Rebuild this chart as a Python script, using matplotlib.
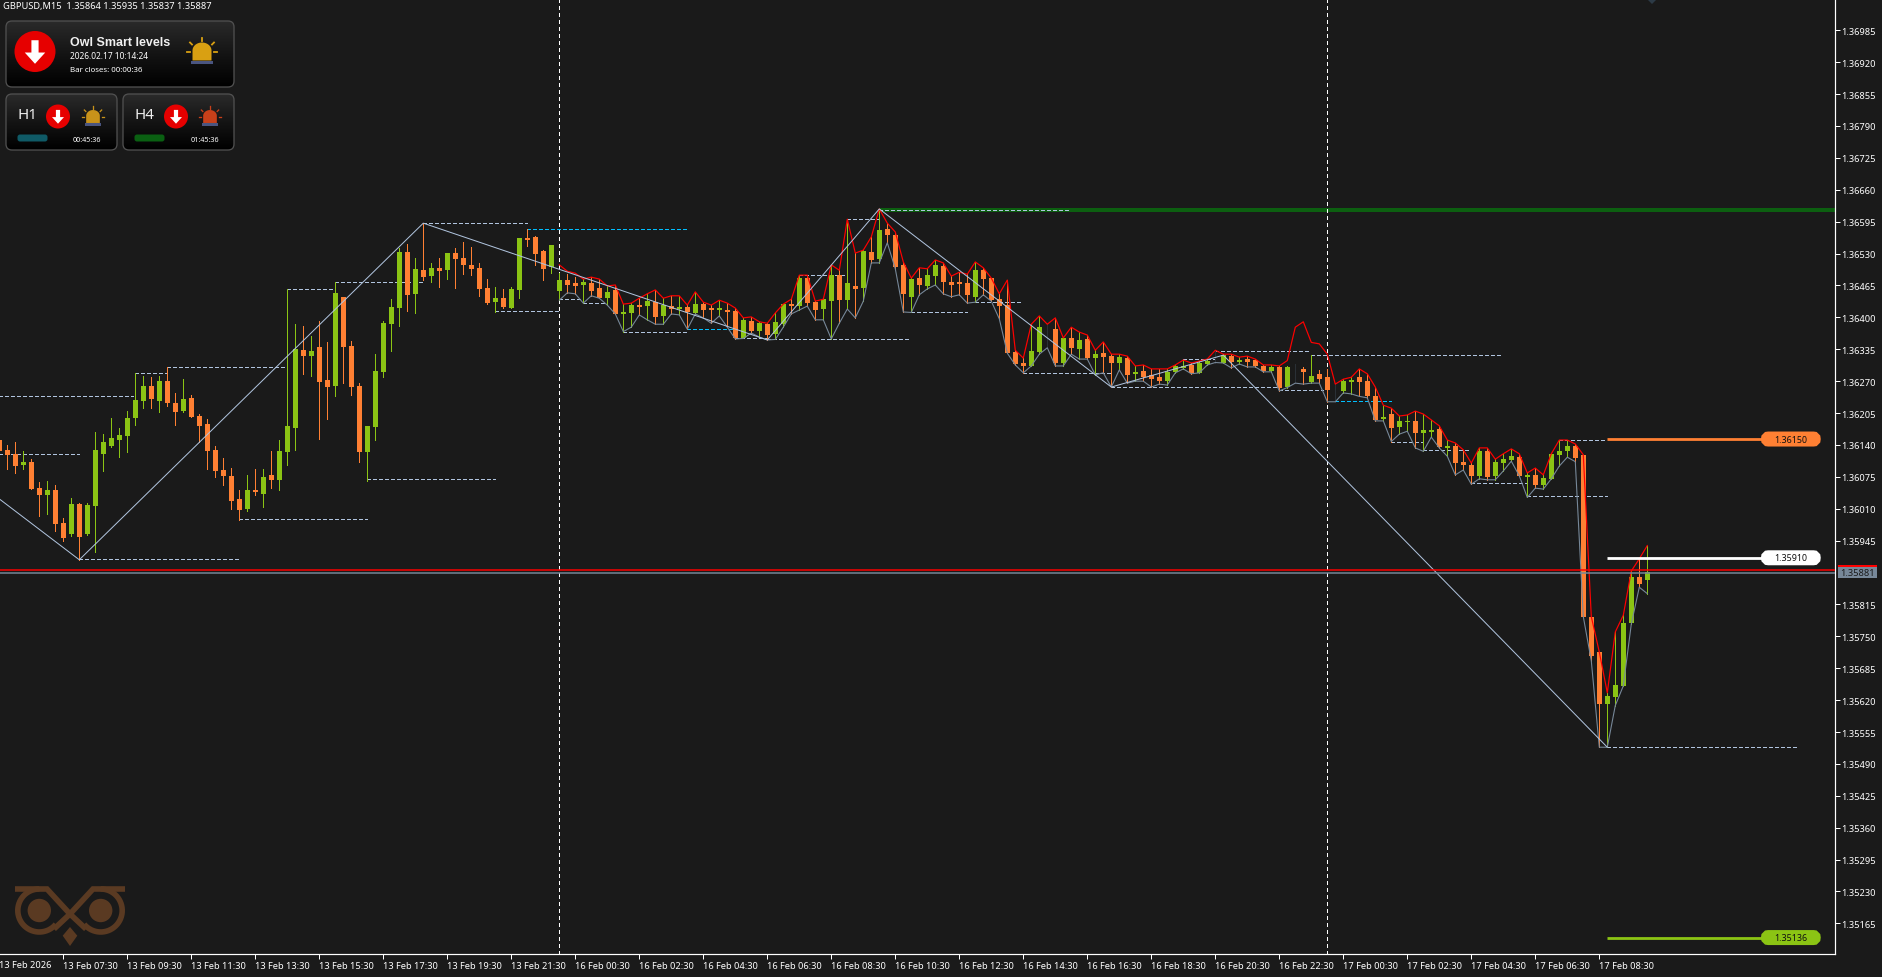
import numpy as np
import matplotlib
matplotlib.use("Agg")
import matplotlib.pyplot as plt
from matplotlib.patches import FancyBboxPatch, Circle, Polygon, Rectangle

plt.rcParams['lines.scale_dashes'] = False
plt.rcParams['font.family'] = ['Noto Sans', 'DejaVu Sans']

# All prices in points above 1.35000 (1 point = 0.00001)
BASE = 1.35
first_bar = -1
highs = [1155,1140,1146,1128,1111,1064,1066,1058,991,1032,
 1022,1022,1166,1162,1195,1174,1209,1286,1280,1278,
 1280,1298,1246,1274,1242,1203,1193,1138,1113,1093,
 1048,1079,1091,1091,1128,1150,1457,1386,1382,1362,
 1393,1350,1473,1441,1352,1266,1179,1325,1393,1437,
 1541,1549,1521,1592,1511,1521,1531,1541,1554,1543,
 1511,1478,1462,1458,1462,1562,1581,1566,1537,1547,
 1490,1488,1482,1478,1482,1478,1464,1466,1427,1429,
 1439,1448,1456,1439,1444,1444,1425,1452,1431,1425,
 1435,1429,1419,1399,1401,1391,1388,1409,1427,1437,
 1486,1486,1433,1437,1507,1496,1600,1531,1537,1564,
 1621,1592,1574,1513,1480,1501,1499,1517,1511,1484,
 1492,1488,1513,1501,1480,1448,1476,1333,1317,1386,
 1403,1386,1399,1358,1380,1370,1364,1333,1350,1325,
 1325,1321,1301,1303,1295,1295,1295,1303,1313,1307,
 1311,1315,1333,1325,1325,1319,1321,1315,1303,1303,
 1301,1301,1305,1299,1323,1293,1295,1264,1274,1278,
 1295,1285,1258,1221,1215,1199,1201,1209,1203,1191,
 1179,1150,1144,1130,1103,1134,1134,1111,1122,1132,
 1122,1083,1093,1079,1122,1150,1150,1142,1120,790,
 718,635,759,793,883,908,935]
lows = [1125,1090,1083,1090,1051,996,1000,965,945,955,
 906,957,922,1086,1136,1115,1126,1181,1215,1215,
 1207,1219,1181,1207,1197,1146,1090,1075,1058,1009,
 988,1005,1038,1013,1052,1048,1099,1130,1285,1280,
 1152,1193,1240,1266,1242,1105,1066,1150,1278,1331,
 1382,1413,1409,1476,1472,1462,1478,1460,1488,1486,
 1444,1427,1410,1419,1419,1439,1545,1507,1476,1490,
 1435,1450,1448,1429,1444,1439,1425,1407,1371,1380,
 1405,1395,1386,1386,1407,1405,1376,1407,1399,1388,
 1403,1380,1356,1357,1368,1360,1354,1355,1380,1407,
 1415,1423,1395,1395,1356,1388,1417,1399,1433,1511,
 1511,1552,1499,1411,1410,1446,1458,1466,1448,1442,
 1446,1429,1431,1446,1433,1397,1327,1303,1287,1301,
 1325,1338,1301,1301,1325,1315,1315,1283,1287,1258,
 1293,1266,1270,1270,1258,1264,1262,1287,1295,1285,
 1287,1303,1308,1307,1297,1305,1299,1299,1289,1289,
 1250,1257,1266,1264,1266,1266,1228,1228,1246,1244,
 1239,1236,1189,1189,1147,1162,1168,1134,1127,1156,
 1134,1117,1079,1089,1060,1071,1069,1069,1087,1107,
 1077,1033,1052,1050,1071,1097,1115,1106,790,700,
 524,524,609,649,775,850,837]
opens = [1150,1130,1122,1100,1105,1052,1037,1048,981,959,
 1020,959,1016,1122,1138,1151,1158,1194,1230,1260,
 1230,1270,1225,1209,1236,1199,1183,1130,1089,1077,
 1030,1009,1048,1040,1079,1068,1126,1174,1333,1321,
 1340,1272,1260,1441,1342,1260,1126,1177,1289,1386,
 1419,1533,1448,1496,1484,1501,1496,1531,1521,1507,
 1501,1460,1431,1439,1419,1456,1562,1564,1535,1503,
 1454,1476,1470,1466,1470,1460,1439,1456,1407,1409,
 1425,1423,1431,1403,1423,1417,1421,1409,1427,1419,
 1415,1415,1413,1358,1393,1372,1386,1366,1386,1427,
 1423,1480,1431,1417,1433,1486,1435,1464,1460,1533,
 1519,1580,1568,1507,1441,1480,1464,1484,1505,1472,
 1472,1470,1442,1497,1480,1437,1425,1329,1307,1301,
 1329,1378,1376,1307,1358,1336,1356,1317,1327,1321,
 1307,1317,1285,1291,1283,1278,1270,1289,1297,1303,
 1287,1305,1321,1307,1321,1309,1315,1313,1301,1291,
 1299,1258,1295,1295,1268,1285,1278,1252,1250,1268,
 1278,1270,1240,1193,1203,1177,1187,1189,1164,1166,
 1173,1134,1138,1105,1099,1077,1128,1077,1103,1109,
 1115,1075,1079,1058,1071,1120,1128,1138,1120,790,
 718,612,626,649,777,871,864]
closes = [1128,1120,1098,1105,1051,1037,1048,979,951,1020,
 953,1018,1130,1146,1154,1160,1195,1232,1260,1234,
 1270,1225,1207,1234,1197,1179,1128,1087,1077,1026,
 1007,1048,1044,1075,1068,1128,1179,1335,1321,1331,
 1268,1258,1450,1340,1258,1126,1179,1291,1388,1421,
 1533,1446,1499,1482,1501,1494,1531,1519,1507,1499,
 1458,1429,1439,1421,1458,1562,1558,1529,1499,1547,
 1476,1466,1464,1472,1454,1439,1452,1407,1411,1425,
 1421,1433,1401,1425,1417,1421,1411,1427,1415,1415,
 1419,1411,1358,1395,1372,1388,1364,1391,1427,1423,
 1480,1429,1415,1437,1486,1435,1470,1458,1535,1517,
 1578,1568,1503,1448,1478,1466,1486,1507,1472,1466,
 1468,1446,1497,1478,1435,1423,1327,1305,1301,1331,
 1380,1378,1307,1358,1338,1354,1317,1325,1319,1307,
 1319,1283,1289,1278,1274,1270,1289,1301,1301,1287,
 1307,1311,1321,1323,1309,1313,1309,1301,1291,1299,
 1256,1299,1295,1289,1280,1274,1252,1252,1270,1272,
 1268,1240,1191,1197,1175,1189,1189,1164,1170,1170,
 1136,1138,1103,1099,1077,1128,1075,1105,1111,1117,
 1077,1079,1058,1073,1122,1128,1138,1113,790,710,
 612,628,651,777,871,857,881]

# envelope lines start at bar 69 and follow highs / lows except where noted
env_start = 69
upper_overrides = {69:1507,70:1494,71:1490,72:1478,160:1312,161:1380,162:1391,163:1349,164:1346,165:1325}

zig_bars = [-1,9,52,95,109,138,152,200]
zig_pts  = [1030,906,1592,1354,1621,1258,1323,524]

level_start = [-1,-1,9,16,20,29,35,41,45,52,61,69,72,77,91,95,105,99,113,121,127,138,151,163,159,147,173,177,183,190,194,200]
level_end   = [15.75,9,28.85,20,35,45,41,52,61,64.9,69,72,75,85,95,113,109,105,120,127,138,159,162.6,186.6,164.5,151,177,183,190,200,200,223.7]
level_pts   = [1239,1121,907,1286,1298,990,1457,1473,1070,1592,1412,1437,1429,1371,1357,1355,1600,1486,1410,1431,1286,1259,1331,1323,1251,1315,1147,1129,1062,1035,1151,524]
cyan_start = [65,85,166]
cyan_end   = [84.9,90.7,173]
cyan_pts   = [1581,1376,1229]
peak_level_start, peak_level_end, peak_level_pts = 109, 132.6, 1619
green_line_pts = 1619

pill_levels = [1152,910,136]
pill_texts  = ['1.36150','1.35910','1.35136']
pill_colors = ['#ff8033','#ffffff','#8bc414']
pill_from_bar = 200
pill_to_bar = 219.3

ask_pts, bid_pts = 884, 881
vline_bars = [69,165]

ytick_pts = [1985,1920,1855,1790,1725,1660,1595,1530,1465,1400,1335,1270,1205,1140,1075,1010,945,
             815,750,685,620,555,490,425,360,295,230,165]
ytick_labels = ['1.36985','1.36920','1.36855','1.36790','1.36725','1.36660','1.36595','1.36530','1.36465',
 '1.36400','1.36335','1.36270','1.36205','1.36140','1.36075','1.36010','1.35945','1.35815','1.35750',
 '1.35685','1.35620','1.35555','1.35490','1.35425','1.35360','1.35295','1.35230','1.35165']
xtick_bars = list(range(7,200,8))
xtick_labels = ['13 Feb 07:30','13 Feb 09:30','13 Feb 11:30','13 Feb 13:30','13 Feb 15:30','13 Feb 17:30','13 Feb 19:30','13 Feb 21:30',
 '16 Feb 00:30','16 Feb 02:30','16 Feb 04:30','16 Feb 06:30','16 Feb 08:30','16 Feb 10:30','16 Feb 12:30','16 Feb 14:30',
 '16 Feb 16:30','16 Feb 18:30','16 Feb 20:30','16 Feb 22:30','17 Feb 00:30','17 Feb 02:30','17 Feb 04:30','17 Feb 06:30','17 Feb 08:30']

BG, ORANGE, LIME, DARK = '#1a1a1a', '#ff8033', '#8bc414', '#2a3036'
LEVEL, CYAN, GREY = '#b0c4de', '#00bfff', '#778899'
PX = 0.72  # one pixel in points at dpi 100

W, H = 1882, 978
fig = plt.figure(figsize=(W/100, H/100), dpi=100, facecolor=BG)
R, B = 1835.3, 955.3
ax = fig.add_axes([0, 1-B/H, R/W, B/H], facecolor=BG)

def P(v):
    return BASE + np.asarray(v, dtype=float)/1e5

ax.set_xlim(-0.9125, -0.9125 + R/8)
ax.set_ylim(P(102), P(2048.8))

bars = np.arange(first_bar, first_bar+len(highs))
hi, lo, op, cl = map(np.array, (highs, lows, opens, closes))
cols = np.where(cl > op, LIME, np.where(cl < op, ORANGE, DARK))

dash = (0, (2.88, 1.6))
# levels
ax.hlines(P(green_line_pts+0), peak_level_start, 300, color='#0c5f10', lw=4*PX, zorder=1, antialiased=False)
ax.hlines(P(level_pts), level_start, level_end, color=LEVEL, lw=PX, linestyles=[dash], zorder=2, antialiased=False)
ax.hlines(P(cyan_pts), cyan_start, cyan_end, color=CYAN, lw=PX, linestyles=[dash], zorder=2, antialiased=False)
ax.hlines(P(peak_level_pts), peak_level_start, peak_level_end, color=LEVEL, lw=PX, linestyles=[dash], zorder=2.1, antialiased=False)
# vertical separators
ax.vlines(vline_bars, P(102), P(2048.8), color='white', lw=PX, linestyles=[(0,(2.2,2.2))], zorder=2, antialiased=False)
# candles
ax.vlines(bars, P(lo), P(hi), colors=cols, lw=PX, zorder=3, antialiased=False)
ax.bar(bars, P(np.maximum(op, cl))-P(np.minimum(op, cl)) + 0.2/1e5, bottom=P(np.minimum(op, cl)),
       width=5/8, color=cols, linewidth=0, zorder=3.1, antialiased=False)
# envelopes
upper = hi.astype(float).copy()
for k, v in upper_overrides.items():
    upper[k-first_bar] = v
s = env_start-first_bar
ax.plot(bars[s:], P(lo[s:]), color=GREY, lw=PX*1.1, zorder=4)
ax.plot(bars[s:], P(upper[s:]), color='#ff0000', lw=PX*1.2, zorder=4.2)
# zigzag
ax.plot(zig_bars, P(zig_pts), color=LEVEL, lw=PX, zorder=5)
# bid / ask
ax.axhline(P(bid_pts-1), color=GREY, lw=1.5*PX, zorder=6)
ax.axhline(P(ask_pts+1), color='#ff0000', lw=1.5*PX, zorder=6.1)
# pill lines
for v, c in zip(pill_levels, pill_colors):
    ax.hlines(P(v), pill_from_bar, pill_to_bar, color=c, lw=2.8*PX, zorder=6)

for side in ('left','top'):
    ax.spines[side].set_visible(False)
for side in ('right','bottom'):
    ax.spines[side].set_color('white')
    ax.spines[side].set_linewidth(PX*1.2)
ax.yaxis.tick_right()
ax.set_yticks(P(ytick_pts))
ax.set_yticklabels(ytick_labels)
ax.set_xticks(xtick_bars)
ax.set_xticklabels(xtick_labels, ha='left')
ax.tick_params(axis='y', colors='white', length=3.4, width=PX, labelsize=6.7, pad=1.0)
ax.tick_params(axis='x', colors='white', length=3.4, width=PX, labelsize=6.7, pad=1.2)
for t in ax.get_yticklabels():
    t.set_verticalalignment('center_baseline')

# overlay in pixel coordinates
ov = fig.add_axes([0,0,1,1], facecolor='none', zorder=10)
ov.set_xlim(0, W); ov.set_ylim(H, 0); ov.axis('off')

def py(pts):
    return 31.3 + (1985-pts)/2.038

ov.text(-1, 965, '13 Feb 2026', color='white', fontsize=6.7, va='center', ha='left')
ov.text(3.5, 6.5, 'GBPUSD,M15  1.35864 1.35935 1.35837 1.35887', color='white', fontsize=6.7, va='center')

# current price flag
ov.add_patch(Rectangle((1837.7, py(bid_pts)-5.3), 39, 11.3, fc=GREY, ec='none'))
ov.add_patch(Rectangle((1837.7, py(bid_pts)-7.3), 39, 2, fc='#ff0000', ec='none'))
ov.text(1857.5, py(bid_pts)+0.3, '1.35881', color='#1a1a1a', fontsize=6.7, va='center', ha='center')

# pills
for v, t, c in zip(pill_levels, pill_texts, pill_colors):
    y = py(v)
    ov.add_patch(FancyBboxPatch((1767, y-1.5), 47.7, 3, boxstyle='round,pad=0,rounding_size=1.5', fc=c, ec=c, lw=12*PX, antialiased=True))
    ov.text(1791, y, t, color='#101010', fontsize=6.4, va='center', ha='center')

def panel(x0, y0, x1, y1):
    r = 6
    p = FancyBboxPatch((x0+r, y0+r), x1-x0-2*r, y1-y0-2*r, boxstyle=f'round,pad={r},rounding_size={r}',
                       fc='none', ec='#505050', lw=PX*1.3, zorder=3)
    ov.add_patch(p)
    g = np.linspace(0, 1, 64)[:, None]
    colmap = matplotlib.colors.LinearSegmentedColormap.from_list('g', ['#2a2a2a', '#141414', '#000000'])
    im = ov.imshow(g, extent=(x0, x1, y1, y0), cmap=colmap, aspect='auto', zorder=2, interpolation='bilinear')
    im.set_clip_path(p)
    ov.set_xlim(0, W); ov.set_ylim(H, 0)

def arrow(cx, cy, r):
    ov.add_patch(Circle((cx, cy), r, fc='#e60000', ec='none', zorder=4))
    s = r/20
    ov.add_patch(Polygon([(cx-3.5*s,cy-11*s),(cx+3.5*s,cy-11*s),(cx+3.5*s,cy+1*s),(cx+10*s,cy+1*s),
                          (cx,cy+12*s),(cx-10*s,cy+1*s),(cx-3.5*s,cy+1*s)], fc='white', ec='none', zorder=5))

def bell(cx, cy, s, col, base='#4a5580'):
    th = np.linspace(np.pi, 0, 24)
    dome = [(cx-9.5*s, cy+9*s)] + [(cx+9.5*s*np.cos(t), cy-1*s-8*s*np.sin(t)) for t in th] + [(cx+9.5*s, cy+9*s)]
    ov.add_patch(Polygon(dome, fc=col, ec='none', zorder=5))
    ov.add_patch(Rectangle((cx-11*s, cy+9*s), 22*s, 3.5*s, fc=base, ec='none', zorder=5))
    for (a, b, c, d) in [(0,-14,0,-11),(-12,-9,-10,-7),(12,-9,10,-7),(-15,0,-12,0),(15,0,12,0)]:
        ov.plot([cx+a*s, cx+c*s], [cy+b*s, cy+d*s], color=col, lw=1.3*s, zorder=5)

panel(6, 22, 234, 88)
panel(6, 95, 117, 151)
panel(123, 95, 234, 151)
arrow(35, 52.5, 20.5)
arrow(58, 117.5, 12)
arrow(176, 117.5, 12)
bell(202, 52.5, 1.0, '#d9a012')
bell(93, 117.5, 0.72, '#c8921a')
bell(210, 117.5, 0.72, '#c8401a')
ov.text(70, 42.5, 'Owl Smart levels', color='#f0f0f0', fontsize=9.0, fontweight='bold', family='Liberation Sans', va='center', zorder=6)
ov.text(70.5, 56.7, '2026.02.17 10:14:24', color='white', fontsize=6.0, va='center', zorder=6)
ov.text(70.5, 70, 'Bar closes: 00:00:36', color='white', fontsize=5.7, va='center', zorder=6)
ov.text(18, 115.5, 'H1', color='#f0f0f0', fontsize=10.8, va='center', zorder=6)
ov.text(135, 115.5, 'H4', color='#f0f0f0', fontsize=10.8, va='center', zorder=6)
ov.text(73, 141, '00:45:36', color='white', fontsize=5.2, va='center', zorder=6)
ov.text(191, 141, '01:45:36', color='white', fontsize=5.2, va='center', zorder=6)
for x0, c in ((17, '#0f5a66'), (134, '#0a6012')):
    ov.add_patch(FancyBboxPatch((x0+2.5, 137.5), 26, 3, boxstyle='round,pad=2,rounding_size=2.5', fc=c, ec='none', zorder=5))

# top marker
ov.add_patch(Polygon([(1647,0),(1657,0),(1652,5)], fc='#2c3a46', ec='none'))

# owl logo
BR = '#5a3a22'
def stroke(xs, ys, lw=5.6):
    ov.plot(xs, ys, color=BR, lw=lw*PX, solid_capstyle='butt', solid_joinstyle='miter')
t1 = np.radians(np.linspace(90, 320, 40))
cl_x, cr_x, cy_l, rr = 39.3, 100.7, 911.5, 21.5
stroke([15, 47, 70, 93, 125], [890, 890, 915, 890, 890])
stroke(cl_x + rr*np.cos(t1), cy_l - rr*np.sin(t1))
stroke(cr_x - rr*np.cos(t1), cy_l - rr*np.sin(t1))
stroke([70, 86], [915, 930])
stroke([70, 54], [915, 930])
ov.add_patch(Circle((cl_x, cy_l), 11.7, fc=BR, ec='none'))
ov.add_patch(Circle((cr_x, cy_l), 11.7, fc=BR, ec='none'))
ov.add_patch(Polygon([(70,928),(77.3,936.7),(70,947),(62.7,936.7)], fc=BR, ec='none'))

fig.savefig('out.png', dpi=100, facecolor=BG)
